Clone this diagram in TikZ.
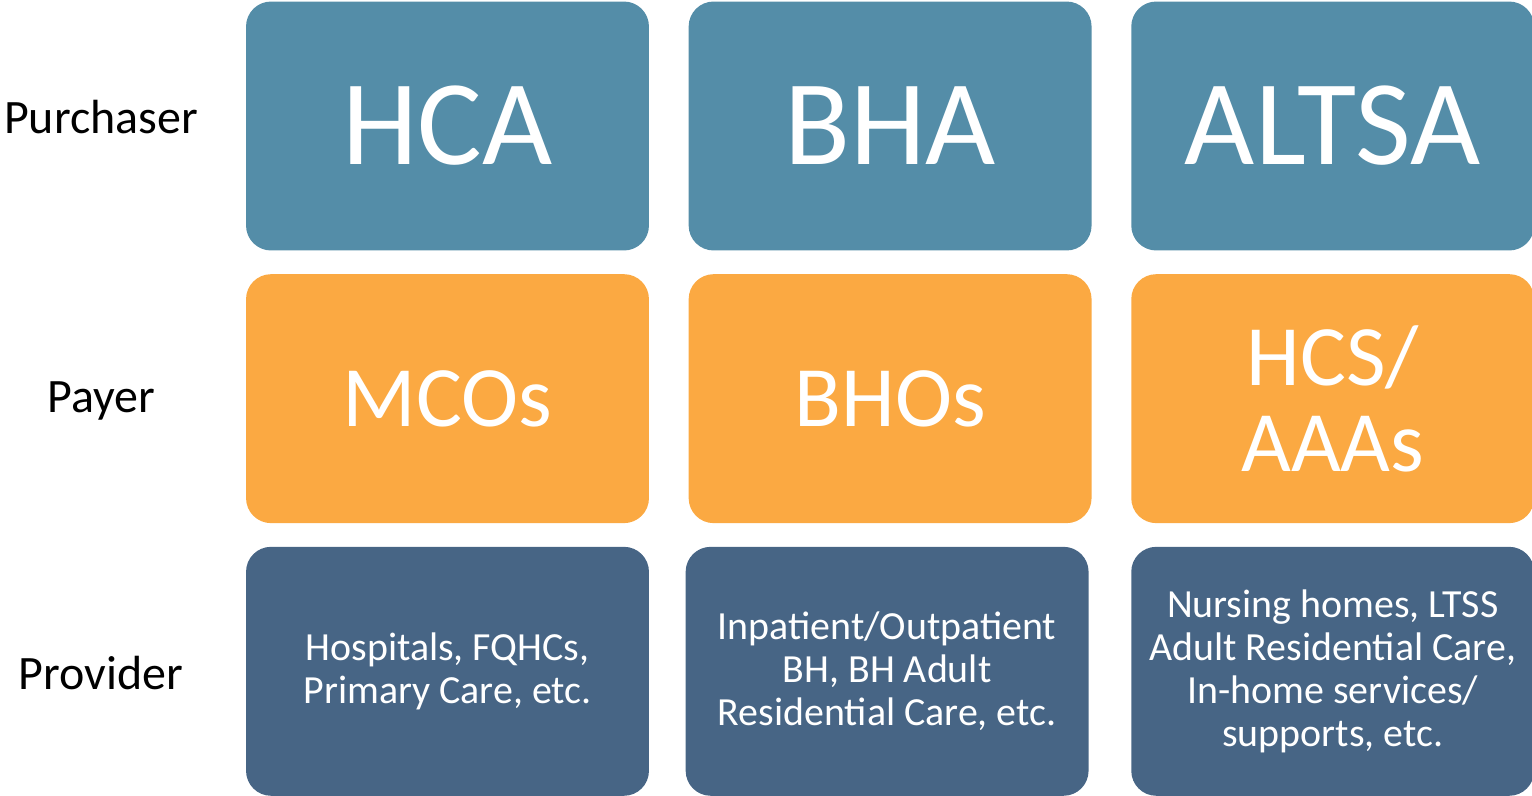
\documentclass[tikz,border=0pt]{standalone}
\usepackage{fontspec}
\setmainfont{Carlito}
\usetikzlibrary{positioning}

\definecolor{purchcol}{HTML}{548DA8}
\definecolor{payercol}{HTML}{FBA942}
\definecolor{providcol}{HTML}{476585}

\tikzset{
  box/.style={rounded corners=0.5cm, minimum width=8.06cm, minimum height=4.98cm,
    text=white, align=center, inner sep=0pt},
  purchbox/.style={box, fill=purchcol, font=\fontsize{69}{80}\selectfont},
  payerbox/.style={box, fill=payercol, font=\fontsize{49}{49}\selectfont},
  providbox/.style={box, fill=providcol, font=\fontsize{22.7}{24.4}\selectfont},
  rowlabel/.style={font=\fontsize{27.3}{32}\selectfont, inner sep=0pt}
}

\begin{document}
\begin{tikzpicture}[x=0.02cm, y=-0.02cm]
    \useasboundingbox (0,0) rectangle (1532,795);

    % purchaser row
    \node [purchbox] (hca) at (447.5,126) {HCA};
    \node [purchbox, right=0.78cm of hca] (bha) {BHA};
    \node [purchbox, right=0.78cm of bha] (altsa) {ALTSA};

    % payer row
    \node [payerbox, below=0.46cm of hca] (mcos) {MCOs};
    \node [payerbox, below=0.46cm of bha] (bhos) {BHOs};
    \node [payerbox, below=0.46cm of altsa] (hcs) {HCS/\\AAAs};

    % provider row
    \node [providbox, below=0.46cm of mcos] (hosp) {Hospitals, FQHCs,\\Primary Care, etc.};
    \node [providbox, right=0.72cm of hosp] (inpat) {Inpatient/Outpatient\\BH, BH Adult\\Residential Care, etc.};
    \node [providbox, below=0.46cm of hcs] (nurs) {Nursing homes, LTSS\\Adult Residential Care,\\In-home services/\\supports, etc.};

    % row labels
    \node [rowlabel] (purch) at (101,117) {Purchaser};
    \node [rowlabel] (payer) at (101,401) {Payer};
    \node [rowlabel] (provid) at (101,673) {Provider};
\end{tikzpicture}
\end{document}
